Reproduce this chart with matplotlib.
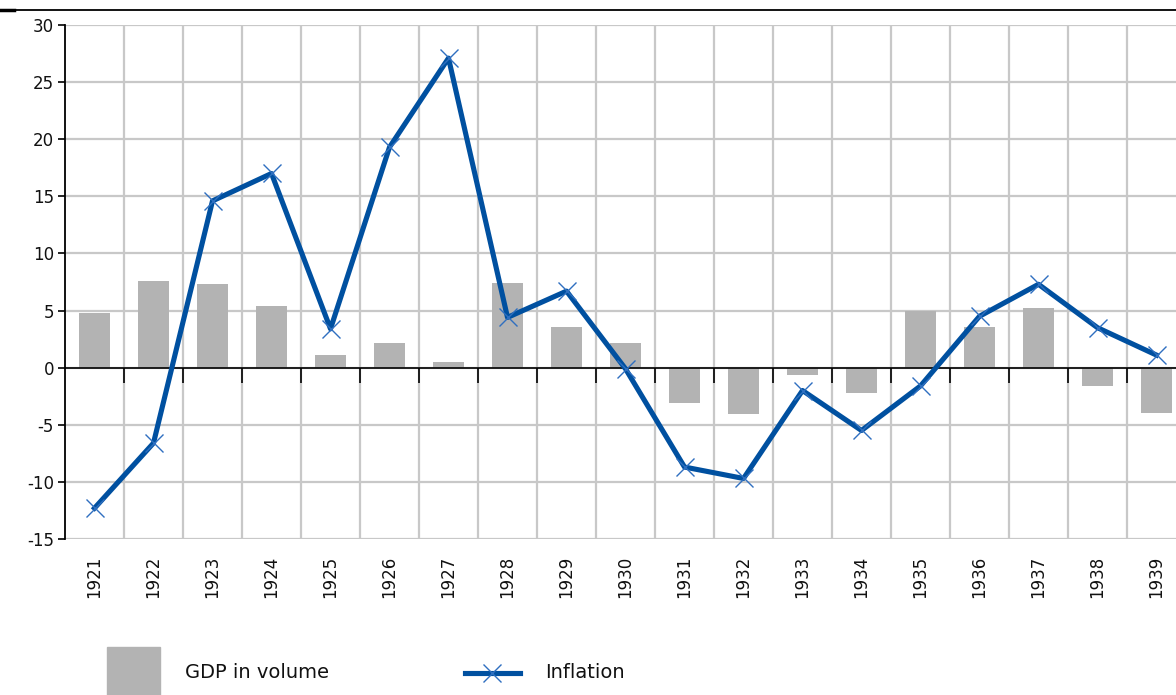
import numpy as np
import matplotlib.pyplot as plt
from matplotlib.lines import Line2D
from matplotlib.patches import Rectangle

# data
years = [str(y) for y in range(1921, 1940)]
gdp = [4.8, 7.6, 7.3, 5.4, 1.1, 2.2, 0.5, 7.4, 3.6, 2.2,
       -3.1, -4.1, -0.6, -2.2, 5.0, 3.6, 5.2, -1.6, -4.0]
inflation = [-12.3, -6.6, 14.6, 17.0, 3.4, 19.3, 27.1, 4.4, 6.7, -0.1,
             -8.7, -9.7, -2.0, -5.5, -1.6, 4.5, 7.3, 3.5, 1.1]
yticks = list(range(-15, 31, 5))

W, H = 1176, 695
fig = plt.figure(figsize=(W / 100, H / 100), dpi=100)
plt.rcParams['font.family'] = ['DejaVu Sans']

# axes run past the right edge like in the original
ax = fig.add_axes([65 / W, 1 - 539 / H, (1186 - 65) / W, (539 - 25) / H])
x = np.arange(len(years))
bounds = np.arange(0.5, len(years), 1)

# grid
ax.hlines(yticks, -0.5, len(years) - 0.5, color='#c8c8c8', lw=1.6, zorder=0)
ax.vlines(bounds, -15, 30, color='#c8c8c8', lw=1.6, zorder=0)

ax.bar(x, gdp, width=0.52, color='#b3b3b3', zorder=2)

# zero line with category ticks
ax.axhline(0, color='black', lw=1.2, zorder=3)
ax.vlines(bounds, -1.3, 0, color='black', lw=1.2, zorder=3)

ax.plot(x, inflation, color='#0050a0', lw=3.7, zorder=4,
        marker='x', markersize=13, markeredgewidth=1.0, markeredgecolor='#2f6fc0')

ax.set_xlim(-0.5, len(years) - 0.5)
ax.set_ylim(-15, 30)
ax.set_yticks(yticks)
ax.set_yticklabels([str(v) for v in yticks], fontsize=12)
ax.tick_params(axis='y', length=5, width=1.2, color='black', pad=3, labelcolor='#111111')
ax.set_xticks(x)
ax.set_xticklabels(years, rotation=90, fontsize=12)
ax.tick_params(axis='x', length=0, pad=12, labelcolor='#111111')

for s in ['top', 'right', 'bottom']:
    ax.spines[s].set_visible(False)
ax.spines['left'].set_linewidth(1.3)

# top rule
fig.add_artist(Line2D([0, 1], [1 - 10 / H] * 2, color='black', lw=1.3))
fig.add_artist(Line2D([0, 14 / W], [1 - 10 / H] * 2, color='black', lw=2.5))

# legend drawn by hand
fig.add_artist(Rectangle((107 / W, 0), 53 / W, 48 / H, color='#b3b3b3'))
fig.text(185 / W, 1 - 672 / H, 'GDP in volume', fontsize=14, va='center', color='#111111')
fig.add_artist(Line2D([465 / W, 520 / W], [1 - 673 / H] * 2, color='#0050a0', lw=3.7))
fig.add_artist(Line2D([492 / W], [1 - 673 / H], marker='x', markersize=13,
                      markeredgewidth=1.0, color='#2f6fc0'))
fig.text(545 / W, 1 - 672 / H, 'Inflation', fontsize=14, va='center', color='#111111')

fig.savefig('out.png', dpi=100)
